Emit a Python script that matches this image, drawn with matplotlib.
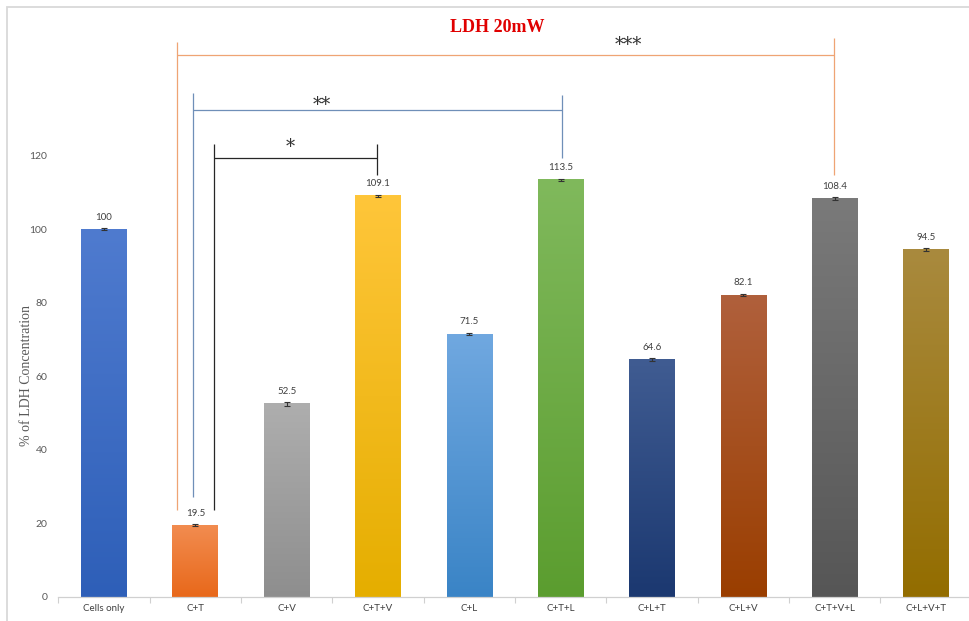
import matplotlib
matplotlib.use("Agg")
import matplotlib.pyplot as plt
import numpy as np
from matplotlib.colors import LinearSegmentedColormap
from matplotlib.patches import Rectangle

categories = ["Cells only", "C+T", "C+V", "C+T+V", "C+L", "C+T+L",
              "C+L+T", "C+L+V", "C+T+V+L", "C+L+V+T"]
values = [100, 19.5, 52.5, 109.1, 71.5, 113.5, 64.6, 82.1, 108.4, 94.5]
errors = [0.3, 0.3, 0.6, 0.3, 0.3, 0.3, 0.3, 0.3, 0.3, 0.3]
value_labels = ["100", "19.5", "52.5", "109.1", "71.5", "113.5",
                "64.6", "82.1", "108.4", "94.5"]
top_colors = ["#4F7BCF", "#F28C50", "#AEAEAE", "#FFC63A", "#70A8E0",
              "#80B95C", "#405C92", "#B0603C", "#7A7A7A", "#A98A3E"]
bottom_colors = ["#2E5FB8", "#E8681A", "#8E8E8E", "#E5AE00", "#3A84C6",
                 "#5B9D2F", "#1B3870", "#9A3E00", "#565656", "#936D00"]
y_ticks = [0, 20, 40, 60, 80, 100, 120]

W, H = 970, 621
fig = plt.figure(figsize=(W / 100, H / 100), dpi=100)
fig.patch.set_facecolor("white")

# outer chart frame
fig.add_artist(Rectangle((7 / W, -0.1), 2.0, (H - 7) / H + 0.1,
                         transform=fig.transFigure, fill=False,
                         edgecolor="#D9D9D9", lw=1.3))

px_per_unit = 3.677
ax = fig.add_axes([58.3 / W, 24 / H, 913.5 / W, 160 * px_per_unit / H])

x = np.arange(len(categories))
bars = ax.bar(x, values, width=0.5, color="none", edgecolor="none", zorder=2)
grad = np.linspace(0, 1, 256).reshape(-1, 1)
for b, c0, c1 in zip(bars, bottom_colors, top_colors):
    cmap = LinearSegmentedColormap.from_list("g", [c0, c1])
    x0, y0 = b.get_x(), b.get_y()
    ax.imshow(grad, extent=[x0, x0 + b.get_width(), y0, y0 + b.get_height()],
              origin="lower", cmap=cmap, aspect="auto", zorder=2,
              interpolation="bilinear")

ax.errorbar(x, values, yerr=errors, fmt="none", ecolor="#333333",
            elinewidth=0.8, capsize=2.5, capthick=0.8, zorder=3)

for xi, v, lab in zip(x, values, value_labels):
    ax.text(xi, v + 3.3, lab, ha="center", va="center", fontsize=7,
            color="#404040", family="Lato")

ax.set_xlim(-0.5, len(categories) - 0.5)
ax.set_ylim(0, 160)
ax.set_yticks(y_ticks)
ax.set_yticklabels([str(t) for t in y_ticks], fontsize=7.5, color="#595959",
                   family="Lato")
ax.tick_params(axis="y", length=0, pad=8)
ax.set_xticks(x)
ax.set_xticklabels(categories, fontsize=7, color="#404040", family="Lato")
ax.tick_params(axis="x", length=0, pad=5)
ax.set_xticks(np.arange(-0.5, len(categories) + 0.5, 1), minor=True)
ax.tick_params(axis="x", which="minor", length=4, color="#D0D0D0", width=0.8)
for s in ["top", "right", "left"]:
    ax.spines[s].set_visible(False)
ax.spines["bottom"].set_color("#D0D0D0")
ax.spines["bottom"].set_linewidth(0.9)


def seg(xs, ys, color):
    ax.plot(xs, ys, color=color, lw=0.9, clip_on=False, zorder=4,
            solid_capstyle="butt")


# *** bracket
c_or = "#EFA474"
seg([0.796, 7.99], [147.4, 147.4], c_or)
seg([0.796, 0.796], [150.9, 23.7], c_or)
seg([7.99, 7.99], [152.0, 114.8], c_or)
# ** bracket
c_bl = "#6F8FB8"
seg([0.978, 5.01], [132.4, 132.4], c_bl)
seg([0.978, 0.978], [137.2, 27.3], c_bl)
seg([5.01, 5.01], [136.5, 119.4], c_bl)
# * bracket
c_bk = "#262626"
seg([1.207, 2.985], [119.3, 119.3], c_bk)
seg([1.207, 1.207], [123.1, 23.7], c_bk)
seg([2.985, 2.985], [123.1, 114.8], c_bk)

star_kw = dict(ha="center", va="center", family="DejaVu Serif", fontsize=13,
               color="#333333", zorder=5)
ax.text(5.74, 150.2, "***", **star_kw)
ax.text(2.38, 133.9, "**", **star_kw)
ax.text(2.04, 122.3, "*", **star_kw)

fig.text(497 / W, 1 - 27 / H, "LDH 20mW", ha="center", va="center",
         color="#E00000", fontweight="bold", family="Liberation Serif",
         fontsize=13)
fig.text(27 / W, 1 - 376 / H, "% of LDH Concentration", rotation=90,
         ha="center", va="center", family="Liberation Serif", fontsize=10,
         color="#595959")

fig.savefig("out.png", dpi=100)
